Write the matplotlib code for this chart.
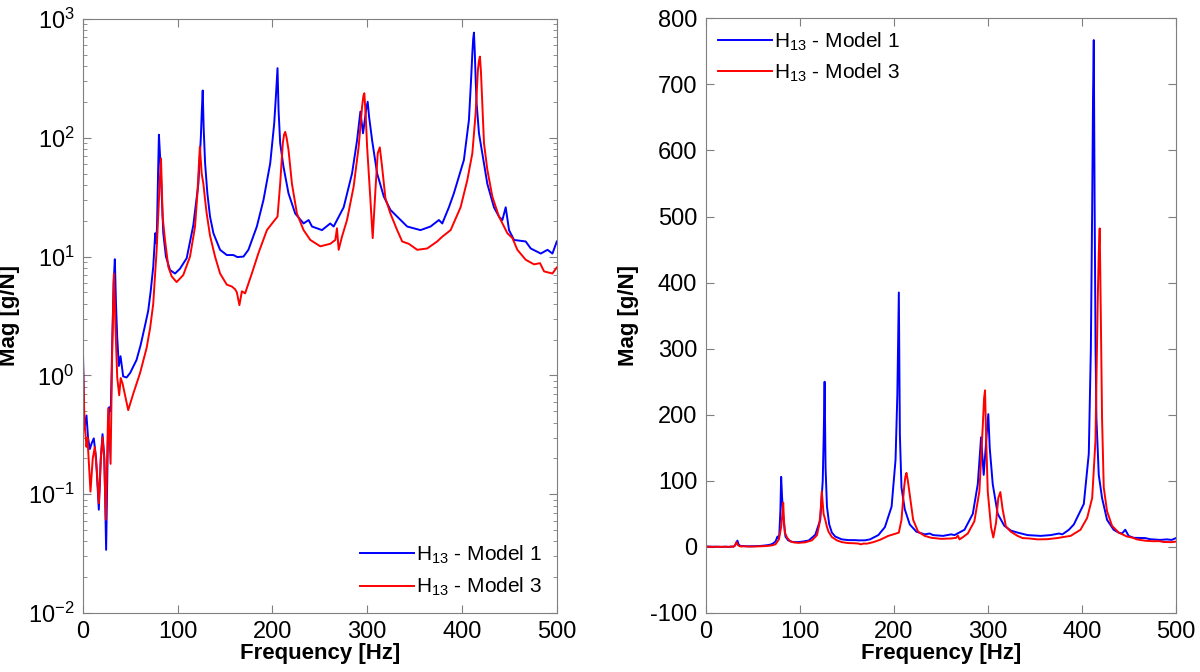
import matplotlib
matplotlib.use("Agg")
import matplotlib.pyplot as plt
from matplotlib.ticker import LogLocator, NullFormatter, MultipleLocator

plt.rcParams['font.family'] = ['Liberation Sans', 'DejaVu Sans']
plt.rcParams['mathtext.default'] = 'regular'
plt.rcParams['axes.unicode_minus'] = False

# ---- data ----
freq_m1 = [0, 1.5, 3.9, 5.5, 7.4, 9.5, 11.6, 14, 16.9, 19, 20.8, 22.8, 24.6, 26.5, 27.8,
           29.5, 31, 32.5, 33.8, 35, 36.3, 38, 39.8, 42.6, 46.2, 50, 56.7, 61, 65.5, 69,
           71.6, 74.3, 76.4, 77.5, 78.3, 79.5, 80.3, 81.3, 82.5, 84.9, 87.7, 92, 97.3, 102.5,
           109.6, 116.6, 121.9, 124.5, 125.5, 126.5, 127.5, 129, 131.4, 134.2, 137.8, 144.8,
           151.9, 158.9, 163, 169.5, 174.7, 183.6, 190.6, 197.7, 201.9, 203.8, 205.4, 206.5,
           208.2, 211.7, 217, 224.1, 232.9, 238.2, 241.8, 252.3, 261, 264.6, 275.2, 284,
           289.3, 292.8, 295.6, 299, 300.5, 302, 305.2, 310.5, 317.5, 324.5, 331.6, 342.2,
           356.2, 366.8, 375.6, 379.2, 386.2, 391.4, 402, 407.3, 409.5, 410.9, 411.8, 412.6,
           413.5, 414.5, 415.4, 417.9, 421.4, 426.7, 433.7, 439, 442.6, 446.1, 449.6, 454.9,
           467.2, 472.5, 483.1, 490.2, 495.4, 500]
mag_m1 = [2.0, 0.35, 0.46, 0.3, 0.24, 0.27, 0.295, 0.2, 0.074, 0.2, 0.32, 0.2, 0.034, 0.3, 0.54,
          0.5, 1.8, 6.0, 9.5, 4.0, 2.1, 1.2, 1.45, 0.98, 0.96, 1.05, 1.35, 1.8, 2.6, 3.5,
          5.1, 8.2, 15.7, 13, 18, 55, 106, 75, 47, 15.7, 10, 7.7, 7.2, 7.9,
          9.7, 18.4, 41, 100, 165, 250, 120, 61, 34, 21.7, 15.7, 11.4,
          10.3, 10.3, 9.9, 10.0, 11.4, 17.9, 30, 61, 132, 230, 385, 170,
          90, 57, 34, 23, 19, 20.3, 17.9, 16.7, 19, 17.9, 26, 50,
          95, 166, 109, 175, 201, 150, 95, 50, 32, 24.7, 21.7, 17.9,
          16.7, 17.9, 20.3, 19, 26, 34, 65, 141, 300, 514, 680, 767,
          520, 300, 195, 109, 74, 41, 26, 21.7, 20.3, 26, 16.7, 13.8,
          13.4, 11.7, 10.6, 11.4, 10.6, 13.4]

freq_m3 = [0, 1.8, 3.9, 4.9, 8.1, 10.5, 12.7, 15, 16.9, 19, 20.8, 22.5, 24.3, 26.8, 29.3,
           31, 32.8, 34.5, 36.3, 38.4, 40, 42, 47.9, 53.2, 60.3, 67.3, 71, 74.3, 77.9,
           80.3, 81.5, 82.5, 83.3, 84.2, 86.7, 90.2, 93.8, 99, 106, 113.1, 118.4, 121, 122.4,
           123.5, 125.4, 127.2, 129, 130.7, 134.2, 139.5, 144.8, 151.9, 157.2, 160.7, 162.5,
           165.2, 167.8, 171.2, 178.3, 185.3, 194.2, 201.2, 205.4, 208.2, 211, 212.3, 213.5,
           215, 217, 220.6, 225.9, 232.9, 240, 250.5, 261, 266.4, 268.1, 269.9, 273.4, 278.7,
           285.7, 291, 294.6, 296, 297, 298.5, 299.9, 303.4, 305.8, 308.7, 311.1, 313.3,
           315.7, 319.2, 324.5, 331.6, 336.9, 343.9, 352.8, 363.3, 373.8, 379.2, 388, 398.5,
           405.6, 410.9, 414.4, 416.8, 417.9, 418.9, 420, 421.4, 423.2, 426.7, 432, 439,
           447.9, 453.2, 458.4, 467.2, 476, 482.3, 486.6, 495.4, 500]
mag_m3 = [1.5, 0.4, 0.25, 0.3, 0.105, 0.2, 0.25, 0.15, 0.084, 0.2, 0.3, 0.2, 0.061, 0.53, 0.18,
          1.64, 7.2, 2.5, 0.96, 0.68, 0.95, 0.85, 0.51, 0.7, 1.04, 1.7, 2.5, 4.0, 11.4,
          30, 48, 67, 40, 21.7, 13.8, 8.2, 6.8, 6.1, 7.0, 10, 17.9, 35, 58,
          84, 50, 41, 30, 23, 15, 10, 7.2, 5.8, 5.6, 5.3, 5.0,
          3.9, 5.1, 4.9, 7.2, 10.7, 16.7, 19.7, 21.7, 41, 90, 106, 112,
          100, 79, 41, 23, 16.7, 13.8, 12.2, 12.8, 13.8, 17.3, 11.4, 14.7, 20.3,
          38.8, 84, 183, 225, 237, 150, 84, 30, 14.3, 36.5, 74, 83,
          57, 31, 23, 16.7, 13.4, 12.8, 11.4, 11.7, 13.4, 14.7, 16.7, 26,
          44, 74, 161, 372, 445, 482, 360, 195, 90, 54, 32, 21.7,
          15.7, 14.3, 11.4, 9.4, 8.6, 8.8, 7.5, 7.2, 8.1]

labels = [r'H$_{13}$ - Model 1', r'H$_{13}$ - Model 3']
xticks = [0, 100, 200, 300, 400, 500]

fig = plt.figure(figsize=(12, 6.72), dpi=100)
ax1 = fig.add_axes([0.069, 0.0878, 0.395, 0.884])
ax2 = fig.add_axes([0.588, 0.0878, 0.392, 0.885])

spine_col = '#7f7f7f'
for ax in (ax1, ax2):
    ax.plot(freq_m1, mag_m1, color='#0000ff', lw=1.4, label=labels[0])
    ax.plot(freq_m3, mag_m3, color='#ff0000', lw=1.4, label=labels[1])
    ax.set_xlim(0, 500)
    ax.set_xticks(xticks)
    ax.tick_params(which='both', direction='in', top=True, right=True,
                   labelsize=17, color=spine_col, pad=6)
    ax.tick_params(which='major', length=6)
    ax.tick_params(which='minor', length=3)
    for s in ax.spines.values():
        s.set_color(spine_col)
    ax.set_xlabel('Frequency [Hz]', fontsize=16, fontweight='bold', labelpad=0)
    ax.set_ylabel('Mag [g/N]', fontsize=16, fontweight='bold')

ax1.set_yscale('log')
ax1.set_ylim(1e-2, 1e3)
ax1.yaxis.set_major_locator(LogLocator(base=10, numticks=10))
ax1.yaxis.set_minor_locator(LogLocator(base=10, subs=range(2, 10), numticks=20))
ax1.yaxis.set_minor_formatter(NullFormatter())
ax1.yaxis.labelpad = 6

ax2.set_ylim(-100, 800)
ax2.yaxis.set_major_locator(MultipleLocator(100))
ax2.yaxis.labelpad = 8

ax1.legend(loc='lower right', frameon=False, fontsize=15, handlelength=2.6,
           handletextpad=0.1, borderaxespad=0.3, labelspacing=0.5)
ax2.legend(loc='upper left', frameon=False, fontsize=15, handlelength=2.6,
           handletextpad=0.1, borderaxespad=0.2, labelspacing=0.4)

fig.savefig('out.png', dpi=100)
